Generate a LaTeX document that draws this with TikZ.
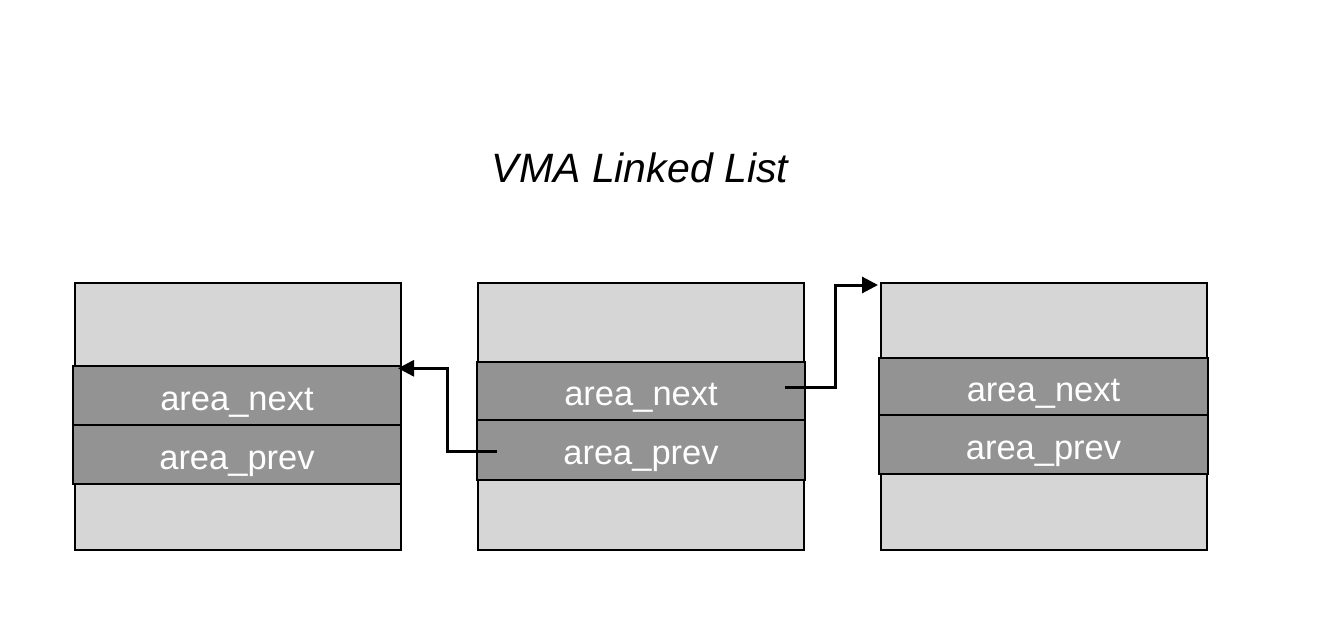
\documentclass[tikz,border=0pt]{standalone}
\usepackage{fontspec}
\setmainfont{Liberation Sans}
\usetikzlibrary{arrows.meta}
\definecolor{lightfill}{HTML}{D6D6D6}
\definecolor{darkfill}{HTML}{939393}
\tikzset{
  outerbox/.style={draw=black, fill=lightfill, line width=2.2pt, minimum width=326pt, minimum height=267pt, inner sep=0pt},
  band/.style={draw=black, fill=darkfill, line width=2.2pt, inner sep=0pt, text=white, text height=29pt, text depth=0pt, font=\fontsize{34.5}{38}\selectfont},
  link/.style={line width=3pt, -{Triangle[length=16pt,width=16pt]}},
}
\begin{document}
\begin{tikzpicture}[x=1pt,y=-1pt]
\useasboundingbox (0,0) rectangle (1329,632);
\node[font=\fontsize{41}{45}\selectfont\itshape] (title) at (640,168) {VMA Linked List};
% box 1
\node[outerbox] (b1) at (238,416.5) {};
\node[band, minimum width=328pt, minimum height=59pt] (b1next) at (237,395.5) {area\_next};
\node[band, minimum width=328pt, minimum height=59pt] (b1prev) at (237,454.5) {area\_prev};
% box 2
\node[outerbox] (b2) at (641,416.5) {};
\node[band, minimum width=328pt, minimum height=58pt] (b2next) at (641,391) {area\_next};
\node[band, minimum width=328pt, minimum height=60pt] (b2prev) at (641,450) {area\_prev};
% box 3
\node[outerbox] (b3) at (1044,416.5) {};
\node[band, minimum width=329pt, minimum height=57pt] (b3next) at (1043.5,386.5) {area\_next};
\node[band, minimum width=329pt, minimum height=59pt] (b3prev) at (1043.5,444.5) {area\_prev};
% links
\coordinate (s1) at (497,451.5);
\coordinate (t1) at (398,368.3);
\coordinate (s2) at (785,387.3);
\coordinate (t2) at (878,285);
\draw[link] (s1) -- (447,451.5) -- (447,368.3) -- (t1);
\draw[link] (s2) -- (835.5,387.3) -- (835.5,285) -- (t2);
\end{tikzpicture}
\end{document}
